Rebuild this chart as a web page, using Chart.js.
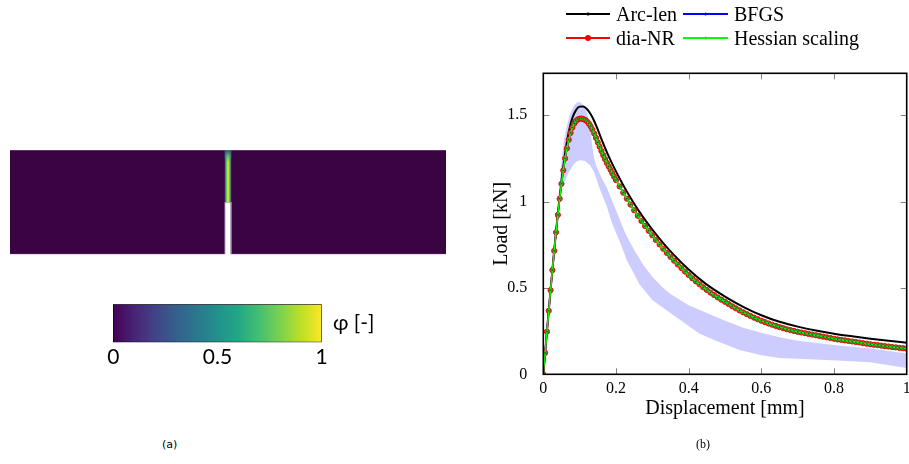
<!DOCTYPE html>
<html lang="en">
<head>
<meta charset="UTF-8" />
<meta name="viewport" content="width=device-width, initial-scale=1.0" />
<title>Phase field and load-displacement response</title>
<script src="https://cdn.jsdelivr.net/npm/chart.js"></script>
<style>
  html, body { margin: 0; padding: 0; background: #fff; }
  body { position: relative; width: 909px; height: 464px; overflow: hidden; }
  canvas { position: absolute; }
  #beamChart { left: 0; top: 0; }
  #barChart { left: 0; top: 280px; }
  #curveChart { left: 450px; top: 0; }
  .text { position: absolute; white-space: nowrap; color: #000; }
  #phiLabel { left: 333px; top: 309px; font: 21px Lato, "DejaVu Sans", sans-serif; line-height: 26px; }
  #capA { left: 162px; top: 438px; font: 11px "DejaVu Sans", sans-serif; }
  #capB { left: 696px; top: 437px; font: 12px "Liberation Serif", serif; }
  #legend { position: absolute; left: 566px; top: 2px; display: grid;
    grid-template-columns: 44px 73px 45px auto; grid-auto-rows: 24px; align-items: center;
    font: 20px "Liberation Serif", serif; color: #000; }
  .key { position: relative; height: 24px; }
  .key .line { position: absolute; left: 0; right: 0; top: 11px; height: 2px; }
  .key .dot { position: absolute; left: 50%; top: 12px; border-radius: 50%; transform: translate(-50%, -50%); }
  .name { padding-left: 6px; white-space: nowrap; }
</style>
</head>
<body>
<canvas id="beamChart" width="450" height="300"></canvas>
<canvas id="barChart" width="450" height="110"></canvas>
<canvas id="curveChart" width="470" height="464"></canvas>
<div class="text" id="phiLabel">φ [-]</div>
<div id="legend"></div>
<div class="text" id="capA">(a)</div>
<div class="text" id="capB">(b)</div>

<script>
  // beam with centre notch, crack band and phase field across it
  const beamLength = 4.2;
  const beamHeight = 1.0;
  const notchX = [2.07, 2.13];
  const notchTop = 0.5;
  const crackX = [2.068, 2.084, 2.1, 2.116, 2.132];
  const crackPhi = [0.15, 0.72, 1.0, 0.72, 0.15];

  const barTicks = [0, 0.5, 1];

  // load-displacement, dia-NR run
  const disp = [
    0, 0.005, 0.01, 0.015, 0.02, 0.025, 0.03, 0.035, 0.04, 0.045,
    0.05, 0.055, 0.06, 0.065, 0.07, 0.075, 0.08, 0.085, 0.09, 0.095,
    0.1, 0.105, 0.11, 0.115, 0.12, 0.125, 0.13, 0.135, 0.14, 0.145,
    0.15, 0.155, 0.16, 0.165, 0.17, 0.175, 0.18, 0.185, 0.19, 0.195,
    0.2,
    0.21, 0.22, 0.23, 0.24, 0.25, 0.26, 0.27, 0.28, 0.29, 0.3,
    0.31, 0.32, 0.33, 0.34, 0.35, 0.36, 0.37, 0.38, 0.39, 0.4,
    0.41, 0.42, 0.43, 0.44, 0.45, 0.46, 0.47, 0.48, 0.49, 0.5,
    0.51, 0.52, 0.53, 0.54, 0.55, 0.56, 0.57, 0.58, 0.59, 0.6,
    0.61, 0.62, 0.63, 0.64, 0.65, 0.66, 0.67, 0.68, 0.69, 0.7,
    0.71, 0.72, 0.73, 0.74, 0.75, 0.76, 0.77, 0.78, 0.79, 0.8,
    0.81, 0.82, 0.83, 0.84, 0.85, 0.86, 0.87, 0.88, 0.89, 0.9,
    0.91, 0.92, 0.93, 0.94, 0.95, 0.96, 0.97, 0.98, 0.99, 1.0
  ];
  const diaNR = [
    0.000, 0.124, 0.247, 0.368, 0.487, 0.603, 0.715, 0.822, 0.923, 1.017,
    1.103, 1.181, 1.250, 1.309, 1.358, 1.398, 1.429, 1.452, 1.467, 1.476,
    1.480, 1.481, 1.478, 1.473, 1.465, 1.453, 1.437, 1.417, 1.394, 1.369,
    1.343, 1.318, 1.293, 1.269, 1.246, 1.224, 1.204, 1.184, 1.164, 1.144,
    1.125,
    1.088, 1.052, 1.017, 0.983, 0.950, 0.918, 0.888, 0.859, 0.831, 0.805,
    0.778, 0.752, 0.727, 0.703, 0.680, 0.658, 0.636, 0.615, 0.595, 0.575,
    0.556, 0.538, 0.521, 0.504, 0.488, 0.473, 0.459, 0.445, 0.432, 0.420,
    0.407, 0.394, 0.382, 0.370, 0.359, 0.348, 0.338, 0.328, 0.319, 0.310,
    0.302, 0.294, 0.287, 0.280, 0.273, 0.267, 0.261, 0.256, 0.251, 0.246,
    0.242, 0.238, 0.234, 0.230, 0.226, 0.222, 0.218, 0.214, 0.210, 0.206,
    0.202, 0.199, 0.196, 0.193, 0.190, 0.187, 0.184, 0.180, 0.177, 0.174,
    0.171, 0.169, 0.166, 0.163, 0.161, 0.158, 0.156, 0.153, 0.151, 0.148
  ];
  // BFGS and Hessian scaling follow the dia-NR path to within a line width
  const bfgs = diaNR;
  const hessian = diaNR;

  const arcDisp = [
    0, 0.01, 0.02, 0.03, 0.04, 0.05, 0.06, 0.07, 0.08, 0.09,
    0.10, 0.11, 0.12, 0.13, 0.14, 0.15, 0.16, 0.18, 0.20, 0.22,
    0.24, 0.26, 0.28, 0.30, 0.33, 0.36, 0.40, 0.45, 0.50, 0.55,
    0.60, 0.65, 0.70, 0.75, 0.80, 0.85, 0.90, 0.95, 1.00
  ];
  const arcLen = [
    0, 0.247, 0.488, 0.718, 0.930, 1.118, 1.280, 1.402, 1.485, 1.530,
    1.550, 1.551, 1.536, 1.507, 1.467, 1.417, 1.362, 1.262, 1.175, 1.095,
    1.022, 0.955, 0.894, 0.838, 0.760, 0.690, 0.607, 0.519, 0.450, 0.391,
    0.342, 0.304, 0.276, 0.254, 0.235, 0.220, 0.206, 0.194, 0.183
  ];

  // spread of the sampled runs
  const bandUpperX = [
    0.046, 0.052, 0.058, 0.066, 0.076, 0.086, 0.096, 0.106, 0.118, 0.126,
    0.132, 0.138, 0.145, 0.160, 0.175, 0.200, 0.225, 0.250, 0.275, 0.300,
    0.325, 0.350, 0.400, 0.450, 0.500, 0.550, 0.600, 0.650, 0.700, 0.800,
    0.900, 1.000
  ];
  const bandUpperY = [
    1.13, 1.27, 1.37, 1.45, 1.52, 1.56, 1.578, 1.568, 1.53, 1.46,
    1.37, 1.27, 1.21, 1.14, 1.08, 0.95, 0.82, 0.72, 0.635, 0.565,
    0.51, 0.465, 0.40, 0.355, 0.31, 0.27, 0.24, 0.215, 0.195, 0.17,
    0.15, 0.12
  ];
  const bandLowerX = [
    0.046, 0.052, 0.060, 0.070, 0.083, 0.092, 0.101, 0.115, 0.129, 0.140,
    0.156, 0.175, 0.190, 0.210, 0.230, 0.265, 0.300, 0.340, 0.380, 0.430,
    0.480, 0.540, 0.600, 0.650, 0.750, 0.850, 0.900, 1.000
  ];
  const bandLowerY = [
    1.13, 1.10, 1.12, 1.17, 1.215, 1.232, 1.24, 1.235, 1.21, 1.17,
    1.07, 0.97, 0.87, 0.77, 0.66, 0.52, 0.43, 0.37, 0.31, 0.235,
    0.19, 0.14, 0.11, 0.095, 0.085, 0.075, 0.07, 0.036
  ];

  const xTicks = [0, 0.2, 0.4, 0.6, 0.8, 1];
  const yTicks = [0, 0.5, 1, 1.5];

  const viridisStops = ['#440154', '#482475', '#414487', '#355f8d', '#2a788e',
    '#21918c', '#22a884', '#44bf70', '#7ad151', '#bddf26', '#fde725'];

  function viridis(t) {
    const n = viridisStops.length - 1;
    const i = Math.min(n - 1, Math.floor(t * n));
    const f = t * n - i;
    const a = viridisStops[i], b = viridisStops[i + 1];
    const ch = (h, k) => parseInt(h.substr(1 + 2 * k, 2), 16);
    const c = [0, 1, 2].map(k => Math.round(ch(a, k) + (ch(b, k) - ch(a, k)) * f));
    return `rgb(${c[0]},${c[1]},${c[2]})`;
  }

  const xy = (xs, ys) => xs.map((x, i) => ({ x, y: ys[i] }));

  Chart.defaults.font.family = '"Liberation Serif", serif';
  Chart.defaults.color = '#000';

  // ---- (a) beam ----
  const beamShape = [
    { x: 0, y: 0 }, { x: notchX[0], y: 0 }, { x: notchX[0], y: notchTop },
    { x: notchX[1], y: notchTop }, { x: notchX[1], y: 0 }, { x: beamLength, y: 0 },
    { x: beamLength, y: beamHeight }, { x: 0, y: beamHeight }, { x: 0, y: 0 }
  ];
  const x0 = crackX[0], x1 = crackX[crackX.length - 1];
  const crackShape = [
    { x: x0, y: notchTop }, { x: x1, y: notchTop }, { x: x1, y: beamHeight },
    { x: x0, y: beamHeight }, { x: x0, y: notchTop }
  ];
  const tipShape = [
    { x: x0, y: 0.88 }, { x: x1, y: 0.88 }, { x: x1, y: beamHeight },
    { x: x0, y: beamHeight }, { x: x0, y: 0.88 }
  ];
  const edges = [
    { x: 0, y: beamHeight }, { x: beamLength, y: beamHeight }, { x: beamLength, y: null },
    { x: 0, y: 0 }, { x: notchX[0], y: 0 }, { x: notchX[0], y: notchTop }, { x: notchX[0], y: null },
    { x: notchX[1], y: notchTop }, { x: notchX[1], y: 0 }, { x: beamLength, y: 0 }
  ];

  new Chart(document.getElementById('beamChart'), {
    type: 'line',
    data: {
      datasets: [
        { data: edges, borderColor: 'rgba(150,120,160,0.8)', borderWidth: 1, fill: false, order: 1 },
        {
          data: tipShape, fill: 'shape', borderWidth: 0, borderColor: 'rgba(0,0,0,0)', order: 2,
          backgroundColor: c => {
            const { chart } = c;
            if (!chart.chartArea) return null;
            const y = chart.scales.y;
            const g = chart.ctx.createLinearGradient(0, y.getPixelForValue(beamHeight), 0, y.getPixelForValue(0.88));
            g.addColorStop(0, 'rgba(45,60,130,0.95)');
            g.addColorStop(0.5, 'rgba(40,140,130,0.5)');
            g.addColorStop(1, 'rgba(40,140,130,0)');
            return g;
          }
        },
        {
          data: crackShape, fill: 'shape', borderWidth: 0, borderColor: 'rgba(0,0,0,0)', order: 3,
          backgroundColor: c => {
            const { chart } = c;
            if (!chart.chartArea) return null;
            const sx = chart.scales.x;
            const p0 = sx.getPixelForValue(x0), p1 = sx.getPixelForValue(x1);
            const g = chart.ctx.createLinearGradient(p0, 0, p1, 0);
            crackX.forEach((x, i) => g.addColorStop((x - x0) / (x1 - x0), viridis(crackPhi[i])));
            return g;
          }
        },
        { data: beamShape, fill: 'shape', backgroundColor: '#3a0342', borderWidth: 0, borderColor: 'rgba(0,0,0,0)', order: 4 }
      ]
    },
    options: {
      responsive: false,
      animation: false,
      events: [],
      layout: { padding: { left: 10, right: 4, top: 150, bottom: 45.7 } },
      elements: { point: { radius: 0 }, line: { tension: 0 } },
      plugins: { legend: { display: false }, tooltip: { enabled: false } },
      scales: {
        x: { type: 'linear', display: false, min: 0, max: beamLength },
        y: { type: 'linear', display: false, min: 0, max: beamHeight }
      }
    }
  });

  // ---- colour bar ----
  new Chart(document.getElementById('barChart'), {
    type: 'line',
    data: {
      datasets: [{
        data: [{ x: 0, y: 0 }, { x: 1, y: 0 }, { x: 1, y: 1 }, { x: 0, y: 1 }, { x: 0, y: 0 }],
        fill: 'shape', borderColor: '#000', borderWidth: 1, pointRadius: 0, tension: 0,
        backgroundColor: c => {
          const { chart } = c;
          const a = chart.chartArea;
          if (!a) return null;
          const g = chart.ctx.createLinearGradient(a.left, 0, a.right, 0);
          viridisStops.forEach((col, i) => g.addColorStop(i / (viridisStops.length - 1), col));
          return g;
        }
      }]
    },
    options: {
      responsive: false,
      animation: false,
      events: [],
      layout: { padding: { left: 113.3, right: 128.3, top: 24.3, bottom: 17.7 } },
      plugins: { legend: { display: false }, tooltip: { enabled: false } },
      scales: {
        x: {
          type: 'linear', min: 0, max: 1, z: 1,
          afterBuildTicks: s => { s.ticks = barTicks.map(v => ({ value: v })); },
          afterFit: s => { s.height = 30; },
          grid: { drawTicks: false, color: c => (c.tick && c.tick.value === 0.5 ? '#a0a0a0' : 'rgba(0,0,0,0)') },
          border: { display: false },
          ticks: { padding: 2, font: { family: 'Lato', size: 21 }, callback: v => String(v) }
        },
        y: { display: false, min: 0, max: 1 }
      }
    }
  });

  // ---- (b) load-displacement ----
  const frame = {
    id: 'frame',
    beforeDatasetsDraw(chart) {
      const { ctx, chartArea: a, scales: { x, y } } = chart;
      ctx.save();
      ctx.strokeStyle = '#808080';
      ctx.lineWidth = 1;
      ctx.beginPath();
      xTicks.slice(1, -1).forEach(v => {
        const px = Math.round(x.getPixelForValue(v)) + 0.5;
        ctx.moveTo(px, a.bottom); ctx.lineTo(px, a.bottom - 6);
        ctx.moveTo(px, a.top); ctx.lineTo(px, a.top + 6);
      });
      yTicks.slice(1).forEach(v => {
        const py = Math.round(y.getPixelForValue(v)) + 0.5;
        ctx.moveTo(a.left, py); ctx.lineTo(a.left + 6, py);
        ctx.moveTo(a.right, py); ctx.lineTo(a.right - 6, py);
      });
      ctx.stroke();
      ctx.restore();
    },
    afterDraw(chart) {
      const { ctx, chartArea: a } = chart;
      ctx.save();
      ctx.strokeStyle = '#000';
      ctx.lineWidth = 1.6;
      ctx.strokeRect(a.left, a.top, a.right - a.left, a.bottom - a.top);
      ctx.restore();
    }
  };

  const bandShape = xy(bandUpperX, bandUpperY).concat(xy(bandLowerX, bandLowerY).reverse());

  const curves = new Chart(document.getElementById('curveChart'), {
    type: 'line',
    data: {
      datasets: [
        { label: 'Arc-len', data: xy(arcDisp, arcLen), borderColor: '#000000', borderWidth: 2,
          pointRadius: 0, cubicInterpolationMode: 'monotone', order: 4, legendDot: 1.4 },
        { label: 'BFGS', data: xy(disp, bfgs), borderColor: '#0000ff', borderWidth: 1.6,
          pointRadius: 0, order: 3, legendDot: 1.4 },
        { label: 'dia-NR', data: xy(disp, diaNR), borderColor: '#ff0000', borderWidth: 1.6,
          pointRadius: 2.6, pointBackgroundColor: '#3f8a3f', pointBorderColor: '#ff0000',
          pointBorderWidth: 1, order: 2, legendDot: 3 },
        { label: 'Hessian scaling', data: xy(disp, hessian), borderColor: '#00ff00', borderWidth: 1.4,
          pointRadius: 0.8, pointBackgroundColor: '#006400', pointBorderWidth: 0, order: 1, legendDot: 1.4 },
        { data: bandShape, fill: 'shape', backgroundColor: '#ccccff', borderColor: 'rgba(0,0,0,0)',
          borderWidth: 0, pointRadius: 0, tension: 0, order: 5 }
      ]
    },
    options: {
      responsive: false,
      animation: false,
      events: [],
      layout: { padding: { left: 40, right: 13.3, top: 73.3, bottom: 39.7 } },
      plugins: { legend: { display: false }, tooltip: { enabled: false } },
      scales: {
        x: {
          type: 'linear', min: 0, max: 1,
          afterBuildTicks: s => { s.ticks = xTicks.map(v => ({ value: v })); },
          afterFit: s => { s.height = 50; },
          grid: { display: false, drawTicks: false },
          border: { display: false },
          ticks: { padding: 5, font: { size: 16 }, callback: v => String(v) },
          title: { display: true, text: 'Displacement [mm]', font: { size: 20 }, padding: { top: 0, bottom: 3.3 } }
        },
        y: {
          type: 'linear', min: 0, max: 1.743,
          afterBuildTicks: s => { s.ticks = yTicks.map(v => ({ value: v })); },
          afterFit: s => { s.width = 53.3; },
          grid: { display: false, drawTicks: false },
          border: { display: false },
          ticks: { padding: 16, font: { size: 16 }, callback: v => String(v) },
          title: { display: true, text: 'Load [kN]', font: { size: 20 }, padding: { top: 0, bottom: 0 } }
        }
      }
    },
    plugins: [frame]
  });

  // legend, two columns
  const legend = document.getElementById('legend');
  curves.data.datasets.filter(d => d.label).forEach(d => {
    const key = document.createElement('div');
    key.className = 'key';
    const r = d.legendDot;
    key.innerHTML = `<div class="line" style="background:${d.borderColor}"></div>` +
      `<div class="dot" style="width:${2 * r}px;height:${2 * r}px;background:${d.borderColor}"></div>`;
    const name = document.createElement('div');
    name.className = 'name';
    name.textContent = d.label;
    legend.appendChild(key);
    legend.appendChild(name);
  });
</script>
</body>
</html>
